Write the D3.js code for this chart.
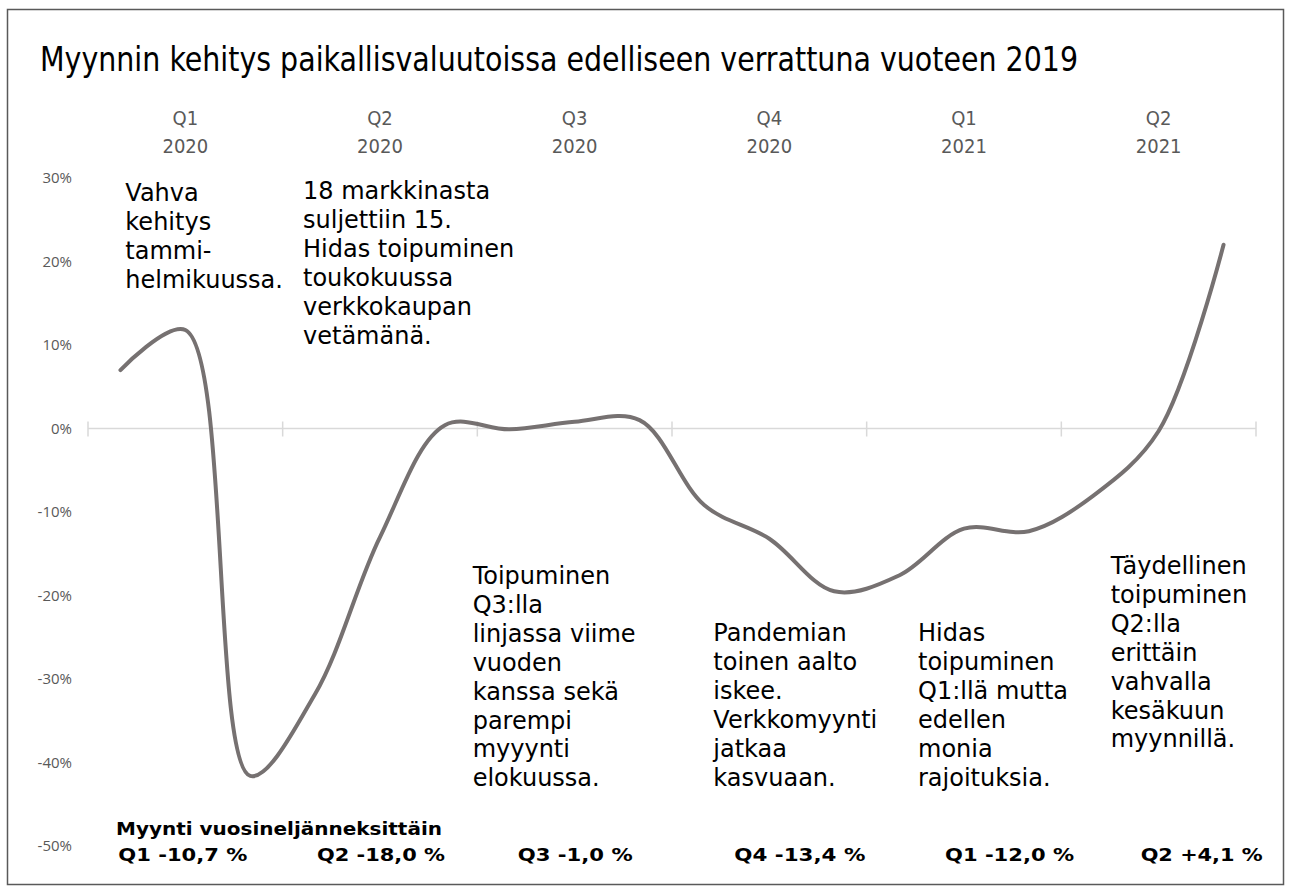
<!DOCTYPE html>
<html>
<head>
<meta charset="utf-8">
<script src="https://cdn.jsdelivr.net/npm/d3@7"></script>
<style>
  body { margin: 0; background: #fff; }
  svg { display: block; }
  .note { font-family: "DejaVu Sans", Verdana, sans-serif; font-size: 24px; fill: #000; }
  .cat { font-family: "DejaVu Sans Condensed", "DejaVu Sans", sans-serif; font-stretch: condensed; font-size: 20px; fill: #595959; }
  .sum { font-family: "DejaVu Sans", Verdana, sans-serif; font-weight: bold; font-size: 18px; fill: #000; }
</style>
</head>
<body>
<div id="chart"></div>
<script>
const quarters = ["Q1 2020", "Q2 2020", "Q3 2020", "Q4 2020", "Q1 2021", "Q2 2021"];
const quarterLabels = [["Q1", "2020"], ["Q2", "2020"], ["Q3", "2020"], ["Q4", "2020"], ["Q1", "2021"], ["Q2", "2021"]];
const months = ["2020-01", "2020-02", "2020-03", "2020-04", "2020-05", "2020-06",
  "2020-07", "2020-08", "2020-09", "2020-10", "2020-11", "2020-12",
  "2021-01", "2021-02", "2021-03", "2021-04", "2021-05", "2021-06"];
const salesChange = [7.0, 11.8, -41.6, -31.8, -13.0, 0.4, -0.1, 0.8, 1.0, -9.2, -13.2, -19.5,
  -17.6, -12.0, -12.3, -8.0, -0.3, 22.0];
const yTicks = [30, 20, 10, 0, -10, -20, -30, -40, -50];

const notes = [
  ["Vahva", "kehitys", "tammi-", "helmikuussa."],
  ["18 markkinasta", "suljettiin 15.", "Hidas toipuminen", "toukokuussa", "verkkokaupan", "vetämänä."],
  ["Toipuminen", "Q3:lla", "linjassa viime", "vuoden", "kanssa sekä", "parempi", "myyynti", "elokuussa."],
  ["Pandemian", "toinen aalto", "iskee.", "Verkkomyynti", "jatkaa", "kasvuaan."],
  ["Hidas", "toipuminen", "Q1:llä mutta", "edellen", "monia", "rajoituksia."],
  ["Täydellinen", "toipuminen", "Q2:lla", "erittäin", "vahvalla", "kesäkuun", "myynnillä."]
];
const summaryTitle = "Myynti vuosineljänneksittäin";
const summaryLabels = ["Q1 -10,7 %", "Q2 -18,0 %", "Q3 -1,0 %", "Q4 -13,4 %", "Q1 -12,0 %", "Q2 +4,1 %"];

const width = 1291, height = 892;

const svg = d3.select("#chart").append("svg")
  .attr("width", width)
  .attr("height", height);

// frame
svg.append("rect")
  .attr("x", 7.5).attr("y", 9.5)
  .attr("width", 1276).attr("height", 875)
  .attr("fill", "none")
  .attr("stroke", "#595959")
  .attr("stroke-width", 1.5);

svg.append("text")
  .attr("x", 40).attr("y", 71)
  .attr("textLength", 1038)
  .attr("lengthAdjust", "spacingAndGlyphs")
  .style("font-family", "'DejaVu Sans Condensed', 'DejaVu Sans', sans-serif")
  .style("font-stretch", "condensed")
  .style("font-size", "33px")
  .style("fill", "#000")
  .text("Myynnin kehitys paikallisvaluutoissa edelliseen verrattuna vuoteen 2019");

const x = d3.scaleBand().domain(quarters).range([88, 1256]);
const xm = d3.scalePoint().domain(months).range([88, 1256]).padding(0.5);
const y = d3.scaleLinear().domain([-50, 30]).range([846, 178]);

// y axis labels
const yAxis = svg.append("g")
  .attr("transform", "translate(74,0)")
  .call(d3.axisLeft(y).tickValues(yTicks).tickSize(0).tickPadding(2).tickFormat(d => d + "%"));
yAxis.select(".domain").remove();
yAxis.attr("font-family", null).attr("font-size", null);
yAxis.selectAll("text")
  .attr("fill", "#595959")
  .style("font-family", "'Open Sans', 'Noto Sans', sans-serif")
  .style("font-size", "15px");

// zero line with quarter ticks
const zero = svg.append("g").attr("stroke", "#d9d9d9").attr("stroke-width", 1.5);
zero.append("line")
  .attr("x1", x.range()[0]).attr("x2", x.range()[1])
  .attr("y1", y(0)).attr("y2", y(0));
const bounds = quarters.map(q => x(q)).concat([x.range()[1]]);
zero.selectAll(".tk")
  .data(bounds)
  .join("line")
  .attr("class", "tk")
  .attr("x1", d => d).attr("x2", d => d)
  .attr("y1", y(0) - 7).attr("y2", y(0) + 8);

// category labels on top
const cat = svg.append("g").selectAll("text")
  .data(quarterLabels)
  .join("text")
  .attr("class", "cat")
  .attr("text-anchor", "middle")
  .attr("x", (d, i) => x(quarters[i]) + x.bandwidth() / 2);
cat.append("tspan").attr("y", 125).text(d => d[0]);
cat.append("tspan").attr("x", (d, i) => x(quarters[i]) + x.bandwidth() / 2).attr("y", 153).text(d => d[1]);

// the line
const line = d3.line()
  .x((d, i) => xm(months[i]))
  .y(d => y(d))
  .curve(d3.curveCatmullRom.alpha(0.5));

svg.append("path")
  .datum(salesChange)
  .attr("d", line)
  .attr("fill", "none")
  .attr("stroke", "#767171")
  .attr("stroke-width", 4)
  .attr("stroke-linecap", "round")
  .attr("stroke-linejoin", "round");

// annotations
const noteLayout = [
  { dx: -60, y: 201 },
  { dx: -77, y: 199 },
  { dx: -102, y: 584 },
  { dx: -56, y: 641 },
  { dx: -46, y: 641 },
  { dx: -48, y: 574 }
];
const lineGap = 28.9;
svg.append("g").selectAll("text")
  .data(notes)
  .join("text")
  .attr("class", "note")
  .each(function (lines, i) {
    const t = d3.select(this);
    const x0 = x(quarters[i]) + x.bandwidth() / 2 + noteLayout[i].dx;
    lines.forEach((s, k) => {
      t.append("tspan")
        .attr("x", x0)
        .attr("y", noteLayout[i].y + k * lineGap)
        .text(s);
    });
  });

// quarterly summary
svg.append("text")
  .attr("class", "sum")
  .attr("x", 116).attr("y", 835)
  .attr("textLength", 326)
  .attr("lengthAdjust", "spacingAndGlyphs")
  .text(summaryTitle);

const sumLayout = [
  { dx: -67, w: 129 },
  { dx: -63, w: 128 },
  { dx: -57, w: 115 },
  { dx: -35, w: 131 },
  { dx: -19, w: 129 },
  { dx: -18, w: 122 }
];
svg.append("g").selectAll("text")
  .data(summaryLabels)
  .join("text")
  .attr("class", "sum")
  .attr("x", (d, i) => x(quarters[i]) + x.bandwidth() / 2 + sumLayout[i].dx)
  .attr("y", 861)
  .attr("textLength", (d, i) => sumLayout[i].w)
  .attr("lengthAdjust", "spacingAndGlyphs")
  .text(d => d);
</script>
</body>
</html>
